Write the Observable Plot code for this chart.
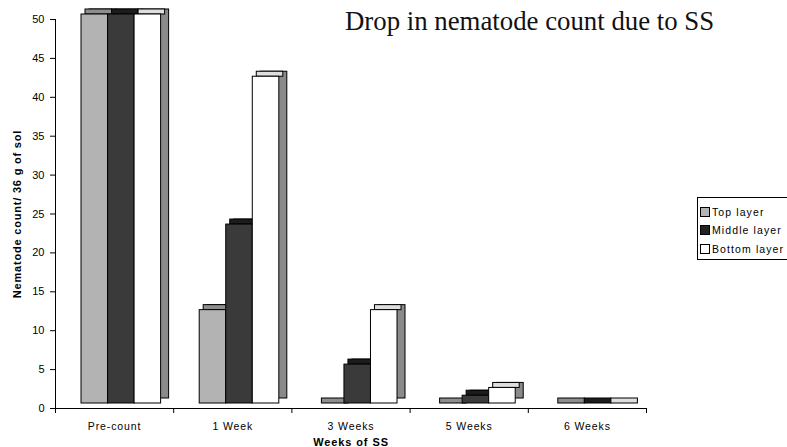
<!DOCTYPE html>
<html><head><meta charset="utf-8">
<script src="https://cdn.jsdelivr.net/npm/d3@7"></script>
<script src="https://cdn.jsdelivr.net/npm/@observablehq/plot@0.6"></script>
<style>
body{margin:0;background:#fff;}
#wrap{position:relative;width:787px;height:447px;overflow:hidden;}
#title{position:absolute;left:345px;top:8px;font:26.8px/26px "Liberation Serif","Times New Roman",serif;white-space:nowrap;color:#111;}
#legend{position:absolute;left:697px;top:197px;width:100px;height:61px;border:1px solid #000;font:10.5px "Liberation Sans",Arial,sans-serif;letter-spacing:1.1px;color:#000;}
.item{position:absolute;left:2px;height:12px;line-height:12px;white-space:nowrap}
.sw{display:inline-block;width:8px;height:8px;border:1px solid #000;vertical-align:-1px;margin-right:2px}
svg text{fill:#000}
</style></head>
<body>
<div id="wrap">
<div id="chart"></div>
<div id="title">Drop in nematode count due to SS</div>
<div id="legend"></div>
</div>
<script>
const categories = ["Pre-count", "1 Week", "3 Weeks", "5 Weeks", "6 Weeks"];
const layers = ["Top layer", "Middle layer", "Bottom layer"];
const topLayer = [50, 12, 0, 0, 0];
const middleLayer = [50, 23, 5, 1, 0];
const bottomLayer = [50, 42, 12, 2, 0];
const yTicks = [0, 5, 10, 15, 20, 25, 30, 35, 40, 45, 50];
const xBoundaries = [0, 1, 2, 3, 4, 5];
const yLabel = "Nematode count/ 36 g of sol";
const xLabel = "Weeks of SS";

const series = [topLayer, middleLayer, bottomLayer];
const frontColors = ["#b3b3b3", "#3a3a3a", "#ffffff"];
const topColors = ["#8e8e8e", "#1c1c1c", "#dedede"];
const sideColor = "#8a8a8a";
const start = 0.22, bw = 0.2245;

const rowsByLayer = series.map((vals, li) =>
  categories.map((c, ci) => ({cat: c, ci, li, layer: layers[li], value: vals[ci]})));

const X1 = d => d.ci + start + d.li * bw;
const X2 = d => d.ci + start + (d.li + 1) * bw;

const marks = [];
rowsByLayer.forEach(rows => marks.push(Plot.rect(rows, {
  x1: X1, x2: X2, y1: 0, y2: "value", dx: 8, dy: -10,
  fill: sideColor, stroke: "#000", strokeWidth: 1
})));
rowsByLayer.forEach((rows, li) => marks.push(Plot.rect(rows, {
  x1: X1, x2: X2, y1: "value", y2: "value", insetTop: -5, dx: 4, dy: -5,
  fill: topColors[li], stroke: "#000", strokeWidth: 1
})));
rowsByLayer.forEach((rows, li) => marks.push(Plot.rect(rows, {
  x1: X1, x2: X2, y1: 0, y2: "value", dy: -5,
  fill: frontColors[li], stroke: "#000", strokeWidth: 1
})));
marks.push(Plot.ruleX([0], {stroke: "#000"}));
marks.push(Plot.ruleY([0], {stroke: "#000"}));
marks.push(Plot.text(categories, {
  x: (d, i) => i + 0.5, frameAnchor: "bottom", lineAnchor: "middle", textAnchor: "middle", dy: 18,
  text: d => d, fontSize: 10.5, fill: "#000"
}));
marks.push(Plot.text([xLabel], {
  frameAnchor: "bottom", lineAnchor: "middle", textAnchor: "middle", dy: 34,
  text: d => d, fontSize: 11, fontWeight: "bold", fill: "#000"
}));
marks.push(Plot.text([yLabel], {
  frameAnchor: "left", textAnchor: "middle", lineAnchor: "middle", dx: -38, rotate: -90,
  text: d => d, fontSize: 11, fontWeight: "bold", fill: "#000"
}));

const chart = Plot.plot({
  width: 787, height: 447,
  marginLeft: 55, marginRight: 141, marginTop: 19, marginBottom: 39,
  style: {fontFamily: "'Liberation Sans', Arial, sans-serif", fontSize: "11px", background: "#fff", color: "#000"},
  x: {domain: [0, 5], ticks: xBoundaries, tickFormat: () => "", tickSize: 5, label: null},
  y: {domain: [0, 50], ticks: yTicks, tickSize: 5, tickPadding: 6, label: null},
  marks
});
document.getElementById("chart").appendChild(chart);

d3.select(chart).selectAll("text").filter(function() {
  const t = this.textContent;
  return categories.includes(t) || t === xLabel;
}).attr("letter-spacing", "0.9px");
d3.select(chart).selectAll("text").filter(function() { return this.textContent === yLabel; })
  .attr("letter-spacing", "0.8px");

const legend = d3.select("#legend");
const swColors = ["#b3b3b3", "#222", "#fff"];
layers.forEach((l, i) => {
  const item = legend.append("div").attr("class", "item").style("top", [8, 26, 45][i] + "px");
  item.append("span").attr("class", "sw").style("background", swColors[i]);
  item.append("span").text(l);
});
</script>
</body></html>
